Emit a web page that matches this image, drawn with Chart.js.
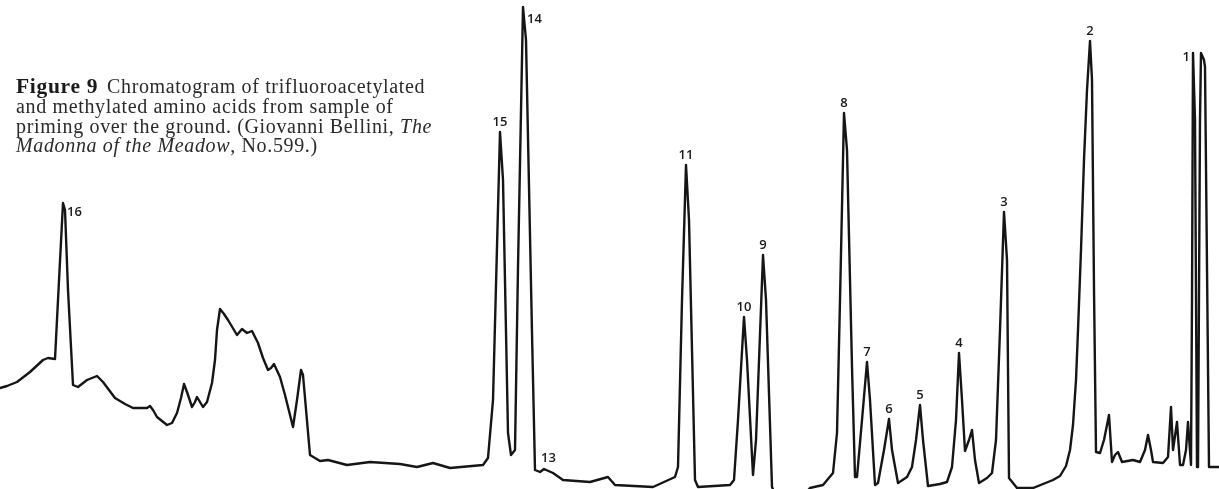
<!DOCTYPE html>
<html>
<head>
<meta charset="utf-8">
<script src="https://cdn.jsdelivr.net/npm/chart.js@4.4.1/dist/chart.umd.min.js"></script>
<style>
  html, body { margin: 0; padding: 0; background: #ffffff; }
  #wrap { position: relative; width: 1219px; height: 489px; overflow: hidden; background: #fff; }
  #cv { position: absolute; left: 0; top: 0; }
  #caption {
    position: absolute; left: 16px; top: 77px; width: 480px; white-space: nowrap;
    font-family: "Liberation Serif", "DejaVu Serif", serif;
    font-size: 20px; line-height: 19.8px; color: #2a2a2a; letter-spacing: 0.65px;
  }
  #caption b { font-weight: bold; font-size: 21.5px; color: #1a1a1a; display: inline-block; width: 91px; letter-spacing: 0.7px; }
</style>
</head>
<body>
<div id="wrap">
  <canvas id="cv" width="1219" height="489"></canvas>
  <div id="caption"><b>Figure 9</b>Chromatogram of trifluoroacetylated<br>and methylated amino acids from sample of<br>priming over the ground. (Giovanni Bellini, <i>The</i><br><i>Madonna of the Meadow</i>, No.599.)</div>
</div>
<script>
// Retention position (chart units) and detector response (chart units)
const retention = [0,7,17,30,43,48,55,58,63,65,68,73,78,87,97,103,115,125,133,147,150,153,157,167,172,177,181,184,187,192,195,197,200,203,207,212,215,217,220,224,228,237,242,247,252,258,263,268,271,274,280,285,293,297,301,303,310,320,328,347,370,400,417,433,450,483,488,493,500,503,508,511,515,518,523,526,532,535,540,544,553,563,590,608,615,653,675,678,682,686,689,695,698,730,734,738,744,747,753,756,763,766,772,775,805,810,823,833,837,840,844,847,852,855,857,862,867,870,875,878,884,889,892,898,907,912,916,920,923,928,940,947,952,956,959,962,965,969,972,975,979,987,992,996,1000,1004,1007,1009,1017,1033,1053,1060,1066,1070,1073,1076,1078,1081,1084,1087,1090,1092,1094,1096,1100,1104,1109,1112,1115,1118,1122,1133,1140,1145,1148,1151,1153,1163,1168,1171,1173,1177,1180,1183,1186,1188,1191,1192,1193,1195,1197,1198,1200,1201,1204,1205,1209,1218,1219];
const response  = [101,103,107,117,129,131,130,189,286,279,199,104,102,109,113,107,91,85,81,81,83,79,72,64,66,76,91,105,97,82,87,92,87,82,87,106,129,159,180,175,169,154,160,156,158,146,131,119,121,125,112,94,62,89,119,114,34,28,29,24,27,25,22,26,21,24,31,89,357,309,56,34,39,222,482,449,156,19,17,20,16,9,7,12,4,2,12,22,189,324,269,9,2,4,9,69,172,129,14,49,234,189,2,-5,-5,1,4,16,56,189,376,339,122,12,12,69,127,89,4,6,39,70,39,6,12,22,49,84,49,3,5,7,22,69,136,89,38,49,59,29,6,11,16,49,159,277,229,11,1,1,9,13,23,39,64,109,159,239,329,399,448,409,200,37,36,49,74,27,34,37,27,29,27,39,54,39,27,26,32,82,39,67,24,24,39,67,24,189,436,369,22,22,369,436,429,422,22,22,22];

// Numbered peaks
const peakLabels   = ['16','15','14','13','11','10','9','8','7','6','5','4','3','2','1'];
const peakTimes    = [63,500,523,544,686,744,763,844,867,889,920,959,1004,1090,1193];
const peakHeights  = [286,357,482,20,324,172,234,376,127,70,84,136,277,448,436];

// label placement (style only): [align, dx, dy]
const labelPlace = {
  '16': ['left', 4, 9], '14': ['left', 4, 12], '13': ['left', -3, -11], '1': ['right', -3, 4]
};

const peakLabelPlugin = {
  id: 'peakLabels',
  afterDatasetsDraw(chart) {
    const {ctx, scales: {x, y}} = chart;
    ctx.save();
    ctx.fillStyle = '#1a1a1a';
    ctx.font = '600 13px "Open Sans", "DejaVu Sans", sans-serif';
    ctx.textBaseline = 'middle';
    peakLabels.forEach((lab, i) => {
      const px = x.getPixelForValue(peakTimes[i]);
      const py = y.getPixelForValue(peakHeights[i]);
      const p = labelPlace[lab];
      if (p) {
        ctx.textAlign = p[0];
        ctx.fillText(lab, px + p[1], py + p[2]);
      } else {
        ctx.textAlign = 'center';
        ctx.fillText(lab, px, py - 10);
      }
    });
    ctx.restore();
  }
};

new Chart(document.getElementById('cv'), {
  type: 'line',
  data: {
    datasets: [{
      data: retention.map((t, i) => ({x: t, y: response[i]})),
      borderColor: '#151515',
      borderWidth: 2.4,
      borderJoinStyle: 'round',
      borderCapStyle: 'round',
      pointRadius: 0,
      tension: 0,
      fill: false
    }]
  },
  options: {
    responsive: false,
    animation: false,
    layout: { padding: 0 },
    plugins: { legend: { display: false }, tooltip: { enabled: false }, title: { display: false } },
    scales: {
      x: { type: 'linear', min: 0, max: 1219, display: false },
      y: { type: 'linear', min: 0, max: 489, display: false }
    }
  },
  plugins: [peakLabelPlugin]
});
</script>
</body>
</html>
